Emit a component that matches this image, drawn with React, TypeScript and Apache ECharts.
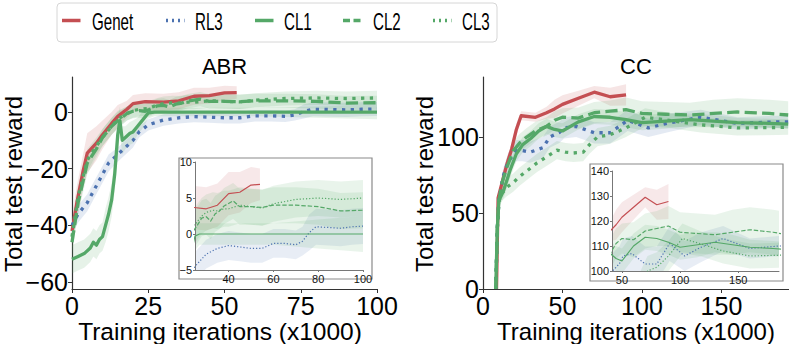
import React, { useEffect, useRef } from "react";
import * as echarts from "echarts";

// ---------------- ABR panel data ----------------
const abrGenetX = [0, 1.6, 3.7, 5, 8, 10, 13, 15, 18, 20, 24, 30, 35, 40, 45, 50, 54];
const abrGenetY = [-42, -32, -20.5, -14.5, -11, -8, -4, -1.5, 1, 3, 3.7, 3.5, 4, 5.6, 5.8, 6.8, 6.9];
const abrGenetSd = [5, 6, 6, 7, 6, 5, 4, 4, 3, 3, 3, 3, 3, 3, 2.8, 2.5, 2.2];

const abrRl3X = [0, 2, 5, 7, 10, 12, 15, 18, 20, 22, 25, 30, 35, 40, 45, 50, 55, 60, 65, 70, 73, 76, 79, 85, 90, 95, 100];
const abrRl3Y = [-40, -36, -32, -28, -22, -18, -15, -12, -10, -7, -4.5, -2.8, -2, -1.6, -1.8, -2, -2, -1.3, -1.3, -1.5, -1.0, 0.2, 1.0, 0.9, 0.8, 1.0, 1.1];
const abrRl3Sd = [3, 3, 3, 3, 3, 3, 2.5, 2.5, 2.5, 2, 2, 2, 2, 2, 2, 2, 2, 2, 2, 2, 2, 2.5, 2.5, 2.5, 2.5, 2.5, 2.5];

const abrCl1X = [0, 2, 4, 6, 7, 8, 9, 10, 11, 12, 13, 14, 15, 15.7, 16.5, 17.5, 19, 20, 21.5, 23, 25, 27, 40, 60, 80, 100];
const abrCl1Y = [-52, -51, -50, -48, -46, -47, -45, -44, -40, -36, -31, -22, -8, -3, -10, -9, -7.5, -7, -5, -3, -0.3, 0, 0, 0, 0, 0];
const abrCl1Sd = [5, 5, 5, 5, 5, 5, 5, 5, 6, 6, 6, 6, 6, 5, 5, 4, 4, 4, 3, 3, 2, 1.5, 1.5, 1.5, 2, 2.5];

const abrCl2X = [0, 2, 5, 8, 10, 13, 15, 18, 20, 22, 24, 26, 28, 30, 32, 34, 36, 38, 42, 45, 50, 55, 60, 70, 80, 90, 100];
const abrCl2Y = [-46, -32, -18, -13, -9, -5, -3, -0.5, 0.3, 0.5, 0.3, 1.2, 2.2, 2.4, 1.8, 2.8, 3.2, 3.9, 4.6, 3.8, 3.8, 3.7, 4.0, 4.0, 3.8, 3.2, 3.3];
const abrCl2Sd = [4, 4, 4, 3, 3, 3, 3, 2.5, 2.5, 2.5, 2.5, 2.5, 2.5, 2.5, 2.5, 2.5, 2.5, 2.5, 2.5, 2.5, 2.5, 2.5, 2.5, 2.5, 2.5, 2.5, 2.5];

const abrCl3X = [0, 2, 5, 8, 10, 13, 15, 18, 20, 22, 25, 28, 30, 33, 35, 38, 40, 45, 50, 55, 60, 70, 80, 90, 100];
const abrCl3Y = [-44, -30, -17, -12, -9, -5, -2.5, -0.5, 0.5, 1.0, 1.3, 2.5, 3.0, 3.3, 3.2, 3.5, 3.5, 4.0, 3.8, 3.6, 4.2, 4.8, 5.0, 4.8, 5.0];
const abrCl3Sd = [4, 4, 4, 3, 3, 3, 3, 2.5, 2.5, 2.5, 2.5, 2.5, 2.5, 2.5, 2.5, 2.5, 2.5, 2.5, 2.5, 2.5, 2.5, 2.5, 2.5, 2.5, 2.5];

// ---------------- CC panel data ----------------
const ccGenetX = [8.5, 9.5, 12, 15, 18, 21, 24, 33, 40, 45, 50, 60, 70, 80, 90];
const ccGenetY = [0, 60, 70, 82, 92, 105, 114, 113, 116, 118.5, 121.5, 125.5, 129.5, 126.5, 127.8];
const ccGenetSd = [0, 3, 4, 4, 4, 4, 3, 3, 4, 6, 6, 5, 4, 6, 7];

const ccRl3X = [8, 9, 10, 12.6, 16, 21, 25, 29.6, 37.7, 42, 48, 51, 58.6, 64, 70, 80, 91, 104, 117, 137, 160, 185, 192];
const ccRl3Y = [0, 40, 58, 74, 84, 91, 91, 90, 93, 100, 103, 106, 107, 105, 102.8, 102.8, 111, 106, 109.3, 113, 109, 110, 110];
const ccRl3Sd = [0, 3, 4, 5, 6, 7, 7, 7, 7, 7, 7, 7, 7, 7, 7, 7, 7, 6, 6, 5, 4, 4, 4];

const ccCl1X = [8, 9, 10, 13, 17, 21, 25, 30, 35, 40, 45, 50, 60, 70, 80, 90, 100, 115, 130, 145, 160, 180, 192];
const ccCl1Y = [0, 40, 58, 65, 78, 89, 95, 99, 104, 107, 105, 104, 110, 113.5, 113, 111.5, 109.5, 110.5, 111.5, 110.5, 109.5, 109, 108.5];
const ccCl1Sd = [0, 3, 4, 5, 5, 5, 5, 5, 5, 5, 5, 5, 5, 5, 5, 5, 5, 5, 4, 4, 3, 3, 3];

const ccCl2X = [8, 9, 10, 12, 15, 19, 23, 27.5, 33, 40, 45, 50, 60, 70, 80, 90, 100, 115, 130, 145, 160, 180, 192];
const ccCl2Y = [0, 40, 58, 70, 80, 91, 96, 100, 104, 107, 111, 113, 112.5, 116, 117, 118, 115.5, 115, 114.5, 115.5, 116.5, 115.5, 114.5];
const ccCl2Sd = [0, 3, 4, 5, 6, 6, 6, 6, 6, 6, 6, 6, 7, 7, 7, 8, 8, 8, 8, 9, 9, 9, 9];

const ccCl3X = [8, 9, 10, 12, 15, 19, 23, 28, 34, 40, 46.5, 52, 57, 63, 67, 72, 80, 90, 102, 117, 137, 160, 185, 192];
const ccCl3Y = [0, 40, 58, 63, 67, 70, 74, 78, 83, 87, 91.4, 90, 89.5, 90, 95, 100, 101.5, 106, 113, 111, 108, 106, 106.3, 106.5];
const ccCl3Sd = [0, 3, 4, 5, 6, 6, 6, 6, 6, 6, 6, 6, 6, 6, 6, 6, 6, 6, 6, 5, 5, 5, 5, 5];

// ---------------- ticks ----------------
const abrXTicks = [0, 25, 50, 75, 100];
const abrYTicks = [-60, -40, -20, 0];
const ccXTicks = [0, 50, 100, 150];
const ccYTicks = [0, 50, 100];
const abrInsetXTicks = [40, 60, 80, 100];
const abrInsetYTicks = [-5, 0, 5, 10];
const ccInsetXTicks = [50, 100, 150];
const ccInsetYTicks = [100, 110, 120, 130, 140];

const legendNames = ["Genet", "RL3", "CL1", "CL2", "CL3"];

const RED = "#c44e52";
const BLUE = "#4c72b0";
const GREEN = "#55a868";
const FONT = "'Liberation Sans', Arial, Helvetica, sans-serif";

type Curve = { name: string; x: number[]; y: number[]; sd: number[]; color: string; style: string };

const abrCurves: Curve[] = [
  { name: "Genet", x: abrGenetX, y: abrGenetY, sd: abrGenetSd, color: RED, style: "solid" },
  { name: "RL3", x: abrRl3X, y: abrRl3Y, sd: abrRl3Sd, color: BLUE, style: "dotted" },
  { name: "CL1", x: abrCl1X, y: abrCl1Y, sd: abrCl1Sd, color: GREEN, style: "solid" },
  { name: "CL2", x: abrCl2X, y: abrCl2Y, sd: abrCl2Sd, color: GREEN, style: "dashed" },
  { name: "CL3", x: abrCl3X, y: abrCl3Y, sd: abrCl3Sd, color: GREEN, style: "dotted" },
];
const ccCurves: Curve[] = [
  { name: "Genet", x: ccGenetX, y: ccGenetY, sd: ccGenetSd, color: RED, style: "solid" },
  { name: "RL3", x: ccRl3X, y: ccRl3Y, sd: ccRl3Sd, color: BLUE, style: "dotted" },
  { name: "CL1", x: ccCl1X, y: ccCl1Y, sd: ccCl1Sd, color: GREEN, style: "solid" },
  { name: "CL2", x: ccCl2X, y: ccCl2Y, sd: ccCl2Sd, color: GREEN, style: "dashed" },
  { name: "CL3", x: ccCl3X, y: ccCl3Y, sd: ccCl3Sd, color: GREEN, style: "dotted" },
];

function dash(style: string, lw: number): any {
  if (style === "dotted") return [lw * 1, lw * 1.65];
  if (style === "dashed") return [lw * 3.7, lw * 1.6];
  return "solid";
}

function buildSeries(curves: Curve[], axisIdx: number, lw: number, z: number, alpha: number) {
  const out: any[] = [];
  curves.forEach((c) => {
    const band = c.x.map((x, i) => [x, c.y[i] - c.sd[i], c.y[i] + c.sd[i]]);
    out.push({
      type: "custom",
      name: c.name + "-band",
      xAxisIndex: axisIdx,
      yAxisIndex: axisIdx,
      z,
      silent: true,
      data: band,
      encode: { x: 0, y: [1, 2] },
      renderItem: (params: any, api: any) => {
        if (params.dataIndex !== 0) return null;
        const upper = band.map((p) => api.coord([p[0], p[2]]));
        const lower = band.map((p) => api.coord([p[0], p[1]])).reverse();
        const cs = params.coordSys;
        return {
          type: "polygon",
          shape: { points: upper.concat(lower) },
          style: { fill: c.color, opacity: alpha },
          clipPath: { type: "rect", shape: { x: cs.x, y: cs.y, width: cs.width, height: cs.height } },
        };
      },
    });
  });
  curves.forEach((c) => {
    out.push({
      type: "line",
      name: c.name,
      xAxisIndex: axisIdx,
      yAxisIndex: axisIdx,
      z: z + 1,
      data: c.x.map((x, i) => [x, c.y[i]]),
      showSymbol: false,
      symbol: "none",
      clip: true,
      lineStyle: { color: c.color, width: lw, type: dash(c.style, lw), cap: "butt", join: "round" },
      itemStyle: { color: c.color },
    });
  });
  return out;
}

const minus = (v: number) => (v < 0 ? "\u2212" + Math.abs(v) : String(v));

function mainAxis(gridIndex: number, min: number, max: number, ticks: number[]) {
  return {
    type: "value",
    gridIndex,
    min,
    max,
    axisLine: { show: true, onZero: false, lineStyle: { color: "#333", width: 1.2 } },
    axisTick: { show: true, length: 4, customValues: ticks, lineStyle: { color: "#333" } },
    axisLabel: { customValues: ticks, fontSize: 25, lineHeight: 25, color: "#000", fontFamily: FONT, margin: 4, formatter: minus },
    splitLine: { show: false },
  };
}

function insetAxis(gridIndex: number, min: number, max: number, ticks: number[]) {
  return {
    type: "value",
    gridIndex,
    min,
    max,
    z: 12,
    axisLine: { show: true, onZero: false, lineStyle: { color: "#777", width: 1 } },
    axisTick: { show: true, length: 2, customValues: ticks, lineStyle: { color: "#777" } },
    axisLabel: { customValues: ticks, fontSize: 11, color: "#111", fontFamily: FONT, margin: 3, formatter: minus },
    splitLine: { show: false },
  };
}

function legendGraphics() {
  const els: any[] = [];
  els.push({
    type: "rect",
    shape: { x: 57, y: 3, width: 440, height: 39, r: 4 },
    style: { fill: "#fff", stroke: "#d6d6d6", lineWidth: 1 },
  });
  const iconX = [62, 166, 255, 343, 433];
  const textX = [92, 195, 284, 373, 462];
  const colors = [RED, BLUE, GREEN, GREEN, GREEN];
  const styles = [null, [2, 4], null, [7, 3.5], [2, 4]];
  legendNames.forEach((n, i) => {
    els.push({
      type: "line",
      shape: { x1: iconX[i], y1: 20.5, x2: iconX[i] + 18.5, y2: 20.5 },
      style: { stroke: colors[i], lineWidth: 3.5, lineDash: styles[i] || null, lineCap: "butt" },
    });
    els.push({
      type: "text",
      x: textX[i],
      y: 22,
      scaleX: 0.63,
      style: { text: n, fontSize: 24, fontFamily: FONT, fill: "#000", align: "left", verticalAlign: "middle", textAlign: "left", textVerticalAlign: "middle" },
    });
  });
  return els;
}

function txt(text: string, x: number, y: number, size: number, rotation = 0) {
  return {
    type: "text",
    x,
    y,
    rotation,
    style: { text, fontSize: size, lineHeight: size, fontFamily: FONT, fill: "#000", align: "center", verticalAlign: "middle", textAlign: "center", textVerticalAlign: "middle" },
  };
}

export default function App() {
  const ref = useRef<HTMLDivElement>(null);
  useEffect(() => {
    if (!ref.current) return;
    const chart = echarts.init(ref.current, undefined, { renderer: "svg" });
    const option: any = {
      animation: false,
      backgroundColor: "#fff",
      grid: [
        { left: 72, top: 77, width: 305, height: 212 },
        { left: 483, top: 77, width: 306, height: 212 },
        { left: 195, top: 162, width: 168, height: 108 },
        { left: 612, top: 171, width: 167, height: 100 },
      ],
      xAxis: [
        mainAxis(0, 0, 100, abrXTicks),
        mainAxis(1, 0, 192.5, ccXTicks),
        insetAxis(2, 25, 100, abrInsetXTicks),
        insetAxis(3, 41.5, 185, ccInsetXTicks),
      ],
      yAxis: [
        mainAxis(0, -62.5, 12.4, abrYTicks),
        mainAxis(1, 0, 139.5, ccYTicks),
        insetAxis(2, -5, 10, abrInsetYTicks),
        insetAxis(3, 100, 140, ccInsetYTicks),
      ],
      series: [
        ...buildSeries(abrCurves, 0, 3.3, 2, 0.15),
        ...buildSeries(ccCurves, 1, 3.3, 2, 0.15),
        ...buildSeries(abrCurves, 2, 1.2, 12, 0.13),
        ...buildSeries(ccCurves, 3, 1.2, 12, 0.13),
      ],
      graphic: [
        ...legendGraphics(),
        txt("ABR", 224.5, 66, 22),
        txt("CC", 636, 66, 22),
        txt("Total test reward", 13, 184, 24, Math.PI / 2),
        txt("Total test reward", 424, 184, 24, Math.PI / 2),
        txt("Training iterations (x1000)", 220, 331, 24.5),
        txt("Training iterations (x1000)", 636, 331, 24),
        {
          type: "rect",
          z: 10,
          shape: { x: 179, y: 158, width: 193, height: 121 },
          style: { fill: "#fff", stroke: "#8a8a8a", lineWidth: 1.2 },
        },
        {
          type: "rect",
          z: 10,
          shape: { x: 590, y: 164, width: 193, height: 117 },
          style: { fill: "#fff", stroke: "#8a8a8a", lineWidth: 1.2 },
        },
      ],
    };
    chart.setOption(option);
    return () => chart.dispose();
  }, []);
  return (
    <div
      ref={ref}
      style={{ position: "absolute", left: 0, top: 0, width: 789, height: 344, background: "#fff" }}
    />
  );
}
